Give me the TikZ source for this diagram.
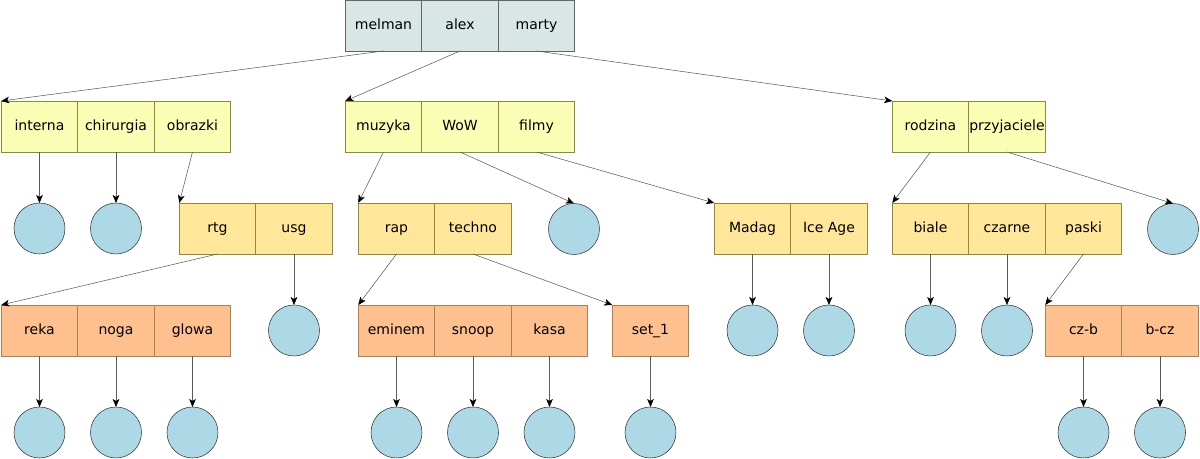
\documentclass[tikz,border=0pt]{standalone}
\usepackage{fontspec}
\setmainfont{DejaVu Sans}
\usetikzlibrary{positioning,arrows.meta}
\definecolor{rootfill}{RGB}{216,230,230}
\definecolor{midfill}{RGB}{250,253,180}
\definecolor{lowfill}{RGB}{255,230,153}
\definecolor{botfill}{RGB}{255,192,143}
\definecolor{leaffill}{RGB}{173,216,230}
\definecolor{edgegray}{RGB}{90,90,90}

\tikzset{
  cell/.style={rectangle, draw=gray!80!black, outer sep=0pt,
    minimum width=57.375pt, minimum height=38.25pt, inner sep=0pt,
    text height=1.6ex, text depth=0.45ex,
    font=\fontsize{10.5}{12}\selectfont},
  rootcell/.style={cell, fill=rootfill},
  midcell/.style={cell, fill=midfill, draw=olive!60!gray},
  lowcell/.style={cell, fill=lowfill, draw=olive!60!gray},
  botcell/.style={cell, fill=botfill, draw=brown!70!gray},
  leaf/.style={circle, draw=black!80, fill=leaffill, minimum size=38.25pt,
    inner sep=0pt, outer sep=0pt},
  arr/.style={draw=edgegray, line width=0.4pt,
    -{Stealth[length=6pt,width=5pt,inset=1.5pt,color=black]}}
}

\begin{document}
\begin{tikzpicture}[x=0.75pt, y=-0.75pt, node distance=38.25pt]
  \useasboundingbox (0,0) rectangle (1200,459);
  % root
  \node[rootcell] (melman) at (383.5,25.5) {melman};
  \node[rootcell, right=0pt of melman] (alex) {alex};
  \node[rootcell, right=0pt of alex] (marty) {marty};
  % second level
  \node[midcell] (interna) at (39.5,126.5) {interna};
  \node[midcell, right=0pt of interna] (chirurgia) {chirurgia};
  \node[midcell, right=0pt of chirurgia] (obrazki) {obrazki};
  \node[midcell] (muzyka) at (383.5,126.5) {muzyka};
  \node[midcell, right=0pt of muzyka] (wow) {WoW};
  \node[midcell, right=0pt of wow] (filmy) {filmy};
  \node[midcell] (rodzina) at (930.5,126.5) {rodzina};
  \node[midcell, right=0pt of rodzina] (przyjaciele) {przyjaciele};
  % third level
  \node[lowcell] (rtg) at (217.5,228.5) {rtg};
  \node[lowcell, right=0pt of rtg] (usg) {usg};
  \node[lowcell] (rap) at (396.5,228.5) {rap};
  \node[lowcell, right=0pt of rap] (techno) {techno};
  \node[lowcell] (madag) at (752.5,228.5) {Madag};
  \node[lowcell, right=0pt of madag] (iceage) {Ice Age};
  \node[lowcell] (biale) at (930.5,228.5) {biale};
  \node[lowcell, right=0pt of biale] (czarne) {czarne};
  \node[lowcell, right=0pt of czarne] (paski) {paski};
  % fourth level
  \node[botcell] (reka) at (39.5,330.5) {reka};
  \node[botcell, right=0pt of reka] (noga) {noga};
  \node[botcell, right=0pt of noga] (glowa) {glowa};
  \node[botcell] (eminem) at (396.5,330.5) {eminem};
  \node[botcell, right=0pt of eminem] (snoop) {snoop};
  \node[botcell, right=0pt of snoop] (kasa) {kasa};
  \node[botcell] (set1) at (650.5,330.5) {set\_1};
  \node[botcell] (czb) at (1083.5,330.5) {cz-b};
  \node[botcell, right=0pt of czb] (bcz) {b-cz};

  % leaves
  \node[leaf] (l-wow) at (574,229) {};
  \node[leaf] (l-przyjaciele) at (1173,229) {};
  \foreach \n in {interna, chirurgia, usg, madag, iceage, biale, czarne,
                  reka, noga, glowa, eminem, snoop, kasa, set1, czb, bcz}
    \node[leaf, below=of \n] (l-\n) {};

  % pointers to child nodes
  \draw[arr] (melman.south) -- (interna.north west);
  \draw[arr] (alex.south) -- (muzyka.north west);
  \draw[arr] (marty.south) -- (rodzina.north west);
  \draw[arr] (obrazki.south) -- (rtg.north west);
  \draw[arr] (muzyka.south) -- (rap.north west);
  \draw[arr] (filmy.south) -- (madag.north west);
  \draw[arr] (rodzina.south) -- (biale.north west);
  \draw[arr] (rtg.south) -- (reka.north west);
  \draw[arr] (rap.south) -- (eminem.north west);
  \draw[arr] (techno.south) -- (set1.north west);
  \draw[arr] (paski.south) -- (czb.north west);
  % pointers to leaves
  \draw[arr] (wow.south) -- (l-wow.north);
  \draw[arr] (przyjaciele.south) -- (l-przyjaciele.north);
  \foreach \n in {interna, chirurgia, usg, madag, iceage, biale, czarne,
                  reka, noga, glowa, eminem, snoop, kasa, set1, czb, bcz}
    \draw[arr] (\n.south) -- (l-\n.north);
\end{tikzpicture}
\end{document}
